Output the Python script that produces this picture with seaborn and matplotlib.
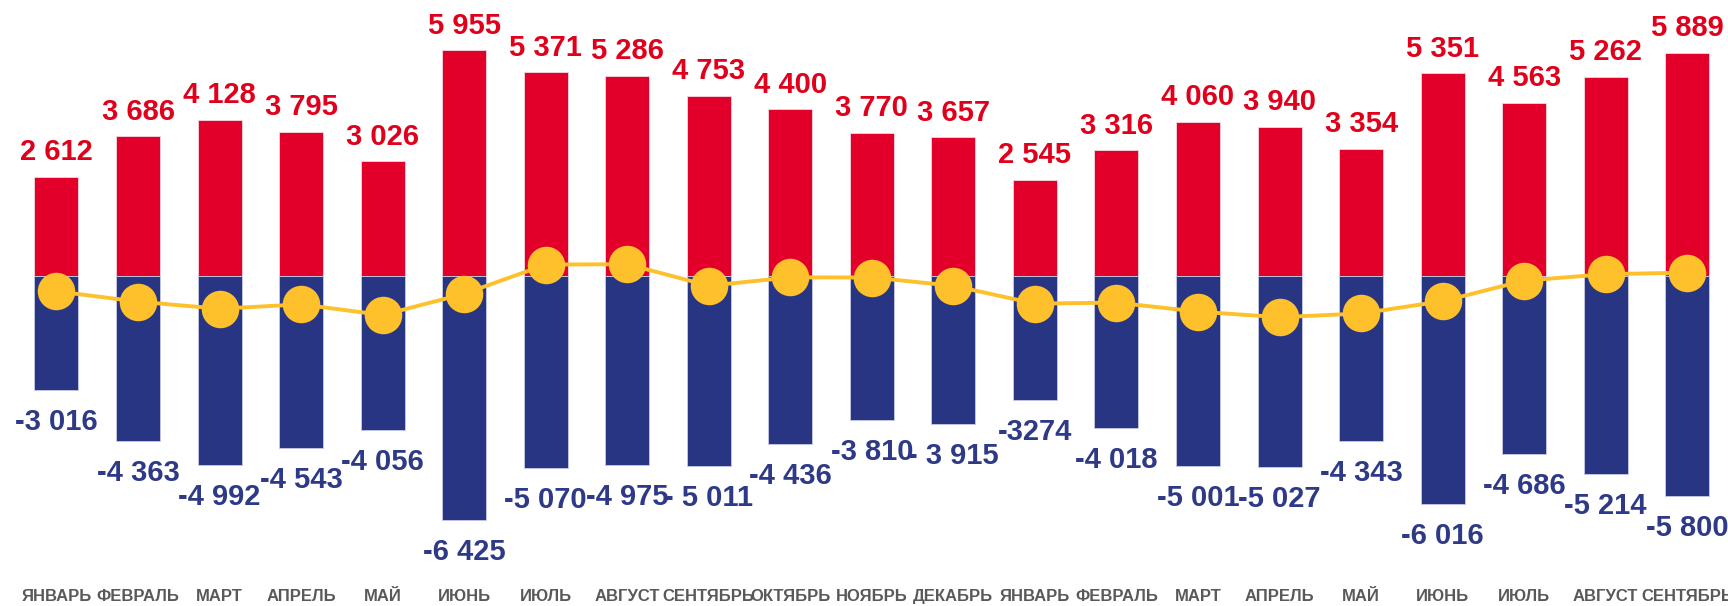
import numpy as np
import pandas as pd
import matplotlib
matplotlib.use('Agg')
import matplotlib.pyplot as plt
import seaborn as sns

# Months (two years, Jan..Dec then Jan..Sep)
months = ['ЯНВАРЬ', 'ФЕВРАЛЬ', 'МАРТ', 'АПРЕЛЬ', 'МАЙ', 'ИЮНЬ', 'ИЮЛЬ', 'АВГУСТ',
          'СЕНТЯБРЬ', 'ОКТЯБРЬ', 'НОЯБРЬ', 'ДЕКАБРЬ',
          'ЯНВАРЬ', 'ФЕВРАЛЬ', 'МАРТ', 'АПРЕЛЬ', 'МАЙ', 'ИЮНЬ', 'ИЮЛЬ', 'АВГУСТ', 'СЕНТЯБРЬ']
positive = [2612, 3686, 4128, 3795, 3026, 5955, 5371, 5286, 4753, 4400, 3770, 3657,
            2545, 3316, 4060, 3940, 3354, 5351, 4563, 5262, 5889]
negative = [-3016, -4363, -4992, -4543, -4056, -6425, -5070, -4975, -5011, -4436, -3810, -3915,
            -3274, -4018, -5001, -5027, -4343, -6016, -4686, -5214, -5800]
pos_labels = ['2 612', '3 686', '4 128', '3 795', '3 026', '5 955', '5 371', '5 286', '4 753',
              '4 400', '3 770', '3 657', '2 545', '3 316', '4 060', '3 940', '3 354', '5 351',
              '4 563', '5 262', '5 889']
neg_labels = ['-3 016', '-4 363', '-4 992', '-4 543', '-4 056', '-6 425', '-5 070', '-4 975',
              '- 5 011', '-4 436', '-3 810', '- 3 915', '-3274', '-4 018', '-5 001', '-5 027',
              '-4 343', '-6 016', '-4 686', '-5 214', '-5 800']

df = pd.DataFrame({'period': [f'{m}_{i}' for i, m in enumerate(months)],
                   'pos': positive, 'neg': negative})
# net balance = inflow + outflow
df['net'] = df['pos'] + df['neg']

red = '#E2002B'
navy = '#283583'
yellow = '#FFC12B'

sns.set_style('white')
plt.rcParams['font.family'] = ['Liberation Sans', 'DejaVu Sans']

fig = plt.figure(figsize=(17.28, 6.06), dpi=100)
ax = fig.add_axes([15.7 / 1728, 21 / 606, 1 - 15.7 / 1728, 585 / 606])

sns.barplot(data=df, x='period', y='pos', color=red, saturation=1, width=0.54,
            edgecolor='#f0d8e0', linewidth=0.6, ax=ax)
sns.barplot(data=df, x='period', y='neg', color=navy, saturation=1, width=0.54,
            edgecolor='#c8cbe6', linewidth=0.6, ax=ax)
sns.lineplot(x=np.arange(len(df)), y=df['net'], color=yellow, linewidth=2.8,
             marker='o', markersize=27, markeredgewidth=0, zorder=5, ax=ax)

for i in range(len(df)):
    ax.annotate(pos_labels[i], (i, positive[i]), xytext=(0, 12), textcoords='offset points',
                ha='center', va='baseline', fontsize=21, fontweight='bold', color='#E0001B')
    ax.annotate(neg_labels[i], (i, negative[i]), xytext=(0, -13), textcoords='offset points',
                ha='center', va='top', fontsize=21, fontweight='bold', color='#2E3A87')

ax.set_xlim(-0.5, len(df) - 0.5)
ax.set_ylim(-8153, 7282)
ax.set_xticks(range(len(df)))
ax.set_xticklabels(months, fontsize=12, fontweight='bold', color='#595959')
ax.tick_params(axis='x', length=0, pad=3)
ax.set_yticks([])
ax.set_xlabel('')
ax.set_ylabel('')
sns.despine(left=True, bottom=True)

fig.savefig('out.png', dpi=100)
